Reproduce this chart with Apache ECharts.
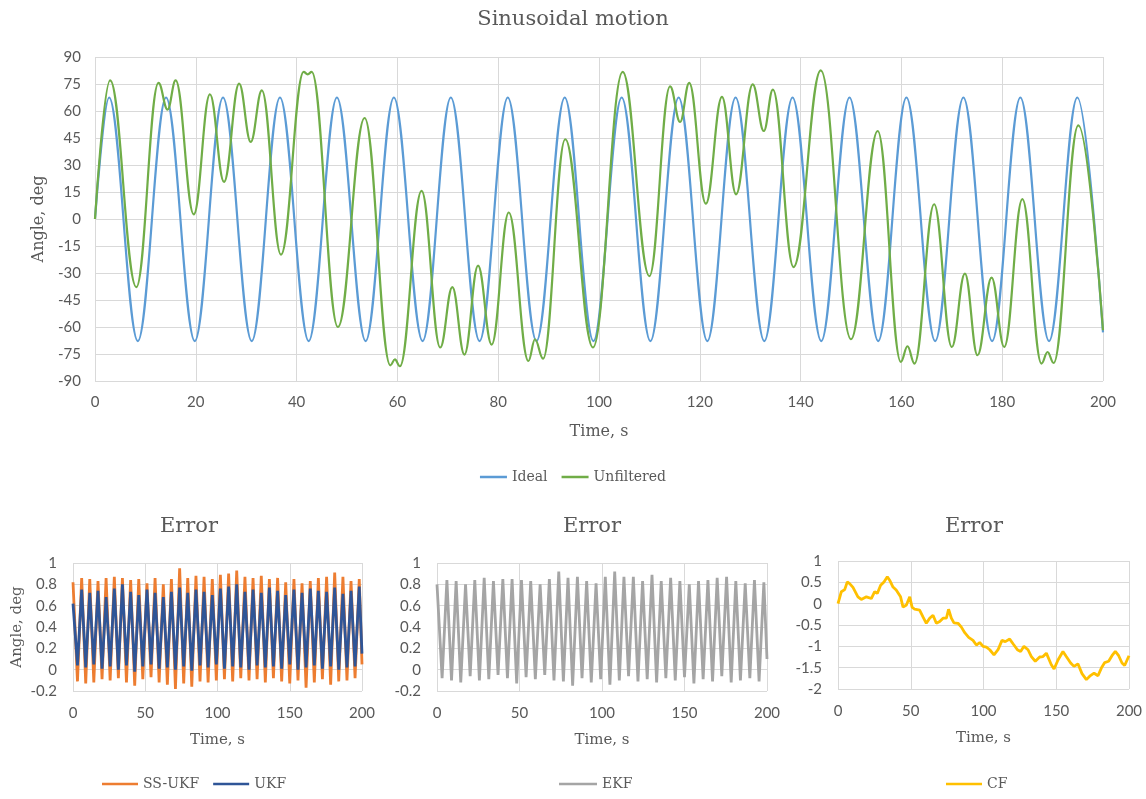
<!DOCTYPE html>
<html><head><meta charset="utf-8">
<script src="https://cdn.jsdelivr.net/npm/echarts@6/dist/echarts.min.js"></script>
<style>html,body{margin:0;padding:0;background:#fff}#c{width:1146px;height:799px}</style>
</head><body><div id="c"></div>
<script>
// ---- Main chart: Sinusoidal motion (extrema) ----
const idealT = [0, 2.8, 8.5, 14.1, 19.8, 25.4, 31.1, 36.7, 42.4, 48.0, 53.7, 59.3, 65.0, 70.6, 76.3, 81.9, 87.6, 93.2, 98.9, 104.5, 110.2, 115.8, 121.5, 127.1, 132.8, 138.4, 144.1, 149.7, 155.4, 161.0, 166.7, 172.3, 178.0, 183.6, 189.3, 194.9, 200];
const idealV = [0, 67.5, -67.8, 67.5, -67.8, 67.5, -67.8, 67.5, -67.8, 67.5, -67.8, 67.5, -67.8, 67.5, -67.8, 67.5, -67.8, 67.5, -67.8, 67.5, -67.8, 67.5, -67.8, 67.5, -67.8, 67.5, -67.8, 67.5, -67.8, 67.5, -67.8, 67.5, -67.8, 67.5, -67.8, 67.5, -63];
const rawT = [0, 3.0, 8.2, 12.6, 14.4, 16.0, 19.6, 22.8, 25.6, 28.6, 30.9, 33.1, 36.9, 41.4, 42.2, 43.0, 48.2, 53.5, 58.6, 59.5, 60.5, 64.8, 68.5, 70.9, 73.3, 76.0, 78.7, 82.1, 86.0, 87.3, 88.9, 93.3, 98.8, 104.7, 110.0, 114.1, 116.1, 117.9, 121.2, 124.4, 127.2, 130.5, 132.7, 134.5, 138.6, 144.0, 150.0, 155.3, 159.9, 161.2, 162.6, 166.5, 170.0, 172.6, 175.1, 177.9, 180.4, 184.0, 187.8, 189.0, 190.2, 195.1, 200];
const rawV = [0, 77, -37.8, 75.6, 60.8, 77, 2.6, 69.3, 20.6, 75.2, 42.8, 71.5, -19.8, 81.7, 80.4, 81.7, -60, 56.1, -81.3, -78, -81.8, 15.6, -71.4, -37.8, -75.3, -25.9, -69.8, 3.6, -78.9, -66.8, -77.6, 44.3, -71.4, 81.7, -31.7, 73.7, 53.9, 75.6, 8.5, 67.8, 13.7, 74.8, 48.9, 71.9, -26.7, 82.6, -66.8, 48.9, -79.4, -70.7, -80.3, 8.2, -71.1, -30.3, -75.7, -32.6, -71.1, 11, -80.3, -73.9, -80, 52, -61.8];

// ---- Error charts: peak / trough times and values ----
const errPeakT = [0, 6.0, 11.6, 17.3, 22.9, 28.6, 34.2, 39.9, 45.5, 51.2, 56.8, 62.5, 68.1, 73.8, 79.4, 85.1, 90.7, 96.4, 102.0, 107.7, 113.3, 119.0, 124.6, 130.3, 135.9, 141.6, 147.2, 152.9, 158.5, 164.2, 169.8, 175.5, 181.1, 186.8, 192.4, 198.1];
const errTroughT = [3.1, 8.8, 14.4, 20.1, 25.7, 31.4, 37.0, 42.7, 48.3, 54.0, 59.6, 65.3, 70.9, 76.6, 82.2, 87.9, 93.5, 99.2, 104.8, 110.5, 116.1, 121.8, 127.4, 133.1, 138.7, 144.4, 150.0, 155.7, 161.3, 167.0, 172.6, 178.3, 183.9, 189.6, 195.2];
const errEndT = 200;
const ssukfPeak = [0.82, 0.86, 0.85, 0.83, 0.86, 0.87, 0.86, 0.84, 0.85, 0.81, 0.86, 0.80, 0.85, 0.95, 0.86, 0.88, 0.87, 0.85, 0.89, 0.90, 0.93, 0.87, 0.86, 0.88, 0.85, 0.86, 0.82, 0.85, 0.81, 0.83, 0.86, 0.87, 0.91, 0.87, 0.83, 0.85];
const ssukfTrough = [-0.11, -0.13, -0.12, -0.09, -0.10, -0.08, -0.12, -0.15, -0.09, -0.07, -0.12, -0.14, -0.18, -0.13, -0.16, -0.11, -0.12, -0.10, -0.09, -0.11, -0.08, -0.10, -0.09, -0.12, -0.08, -0.11, -0.13, -0.10, -0.17, -0.12, -0.09, -0.14, -0.11, -0.10, -0.08];
const ssukfEnd = 0.05;
const ukfPeak = [0.62, 0.75, 0.72, 0.74, 0.68, 0.76, 0.80, 0.73, 0.70, 0.75, 0.72, 0.68, 0.73, 0.77, 0.72, 0.75, 0.73, 0.70, 0.76, 0.78, 0.80, 0.73, 0.75, 0.72, 0.77, 0.74, 0.70, 0.75, 0.72, 0.76, 0.74, 0.73, 0.77, 0.71, 0.74, 0.78];
const ukfTrough = [0.04, 0.02, 0.05, 0.01, 0.03, 0.0, 0.04, -0.02, 0.03, 0.05, 0.01, 0.02, 0.0, 0.03, -0.01, 0.04, 0.02, 0.05, 0.01, 0.03, 0.02, 0.0, 0.04, 0.02, 0.03, 0.01, 0.05, 0.0, 0.02, 0.04, 0.01, 0.03, 0.0, 0.02, 0.03];
const ukfEnd = 0.15;
const ekfPeak = [0.80, 0.84, 0.83, 0.80, 0.84, 0.86, 0.83, 0.85, 0.85, 0.84, 0.83, 0.80, 0.85, 0.92, 0.86, 0.87, 0.83, 0.81, 0.87, 0.92, 0.87, 0.87, 0.83, 0.89, 0.83, 0.86, 0.83, 0.80, 0.83, 0.84, 0.86, 0.87, 0.83, 0.81, 0.84, 0.82];
const ekfTrough = [-0.08, -0.10, -0.12, -0.06, -0.10, -0.09, -0.05, -0.08, -0.13, -0.07, -0.09, -0.05, -0.10, -0.11, -0.15, -0.08, -0.12, -0.09, -0.14, -0.10, -0.06, -0.11, -0.09, -0.12, -0.08, -0.10, -0.07, -0.13, -0.09, -0.11, -0.06, -0.12, -0.10, -0.08, -0.11];
const ekfEnd = 0.1;
const cfT = [0, 2.3, 4.6, 6.4, 8, 10.3, 13.7, 16, 19.5, 22.9, 25.2, 27, 29.3, 31.6, 33.9, 35.5, 37.8, 40, 43, 44.7, 47, 49.3, 50.9, 52.7, 56.1, 58.4, 60.7, 63, 65.3, 67.6, 69.9, 72.2, 74.5, 76, 77.9, 79.7, 82.5, 84.8, 87.1, 89.8, 92.8, 95.1, 97.4, 99.7, 102, 104.3, 107.2, 110, 112.7, 115, 118, 120.3, 123.3, 125.5, 127.8, 130.6, 132.9, 135.6, 138.6, 140.9, 143.2, 146.6, 148.5, 151.2, 154.6, 156.9, 159.9, 162.2, 164.9, 167.7, 170.7, 173, 176, 178.7, 181, 183.3, 186, 188.3, 190.6, 192.9, 195.2, 197, 200];
const cfV = [0.0, 0.28, 0.33, 0.51, 0.47, 0.38, 0.16, 0.1, 0.16, 0.12, 0.28, 0.24, 0.43, 0.51, 0.63, 0.55, 0.39, 0.32, 0.16, -0.08, -0.03, 0.16, -0.08, -0.13, -0.15, -0.31, -0.46, -0.34, -0.27, -0.46, -0.42, -0.34, -0.34, -0.13, -0.34, -0.45, -0.46, -0.55, -0.68, -0.79, -0.86, -0.97, -0.91, -1.0, -1.02, -1.08, -1.2, -1.08, -0.86, -0.89, -0.83, -0.94, -1.08, -1.12, -1.0, -1.08, -1.24, -1.35, -1.25, -1.24, -1.16, -1.43, -1.53, -1.32, -1.12, -1.24, -1.39, -1.47, -1.41, -1.64, -1.78, -1.70, -1.63, -1.69, -1.51, -1.38, -1.35, -1.22, -1.12, -1.22, -1.39, -1.45, -1.22];

const titles = ['Sinusoidal motion', 'Error'];
const xName = 'Time, s', yName = 'Angle, deg';

function pairs(t, v) { return t.map((x, i) => [x, v[i]]); }
function zig(peaks, troughs, endV) {
  const out = [];
  for (let i = 0; i < peaks.length; i++) {
    out.push([errPeakT[i], peaks[i]]);
    if (i < troughs.length) out.push([errTroughT[i], troughs[i]]);
  }
  out.push([errEndT, endV]);
  return out;
}

const grey = '#595959', gridC = '#D9D9D9';
const serif = 'DejaVu Serif', sans = 'Lato';

function xAx(gi, name, gap, fs, margin) {
  return { gridIndex: gi, type: 'value', min: 0, max: 200, interval: gi === 0 ? 20 : 50,
    axisLine: { show: false }, axisTick: { show: false },
    splitLine: { show: true, lineStyle: { color: gridC, width: 1 } },
    axisLabel: { color: grey, fontFamily: sans, fontSize: 15, margin: margin },
    name: name, nameLocation: 'middle', nameGap: gap,
    nameTextStyle: { fontFamily: serif, fontSize: fs, color: grey } };
}
function yAx(gi, min, max, interval, name, gap, fs, margin) {
  return { gridIndex: gi, type: 'value', min: min, max: max, interval: interval,
    axisLine: { show: false }, axisTick: { show: false },
    splitLine: { show: true, lineStyle: { color: gridC, width: 1 } },
    axisLabel: { color: grey, fontFamily: sans, fontSize: 15, margin: margin },
    name: name, nameLocation: 'middle', nameGap: gap,
    nameTextStyle: { fontFamily: serif, fontSize: fs, color: grey } };
}
function ttl(text, x, top, fs) {
  return { text: text, left: x, top: top, textAlign: 'center', padding: 0,
    textStyle: { fontFamily: serif, fontSize: fs, fontWeight: 'normal', color: grey } };
}
function leg(names, left, top, w) {
  return { data: names, left: left, top: top, padding: 0, icon: 'rect',
    itemWidth: w, itemHeight: 2.5, itemGap: 14,
    textStyle: { fontFamily: serif, fontSize: 14, color: grey } };
}
function line(name, data, color, xi, w, extra) {
  return Object.assign({ name: name, type: 'line', data: data, xAxisIndex: xi, yAxisIndex: xi,
    symbol: 'none', lineStyle: { color: color, width: w }, itemStyle: { color: color },
    emphasis: { disabled: true }, animation: false }, extra || {});
}

const option = {
  backgroundColor: '#fff',
  animation: false,
  title: [
    ttl(titles[0], 573, 9, 21),
    ttl(titles[1], 189, 516, 21),
    ttl(titles[1], 592, 516, 21),
    ttl(titles[1], 974, 516, 21)
  ],
  legend: [
    leg(['Ideal', 'Unfiltered'], 'center', 470, 27),
    leg(['SS-UKF', 'UKF'], 102, 777, 36),
    leg(['EKF'], 559, 777, 38),
    leg(['CF'], 946, 777, 36)
  ],
  grid: [
    { left: 95, top: 57, width: 1008, height: 324, outerBoundsMode: 'none' },
    { left: 73, top: 563, width: 289, height: 128, outerBoundsMode: 'none' },
    { left: 437, top: 563, width: 330, height: 128, outerBoundsMode: 'none' },
    { left: 838, top: 561, width: 291, height: 128, outerBoundsMode: 'none' }
  ],
  xAxis: [xAx(0, xName, 43, 16, 14), xAx(1, xName, 42, 15, 15), xAx(2, xName, 42, 15, 15), xAx(3, xName, 42, 15, 15)],
  yAxis: [
    yAx(0, -90, 90, 15, yName, 41, 16, 14),
    yAx(1, -0.2, 1, 0.2, yName, 48, 15, 16),
    yAx(2, -0.2, 1, 0.2, '', 40, 15, 16),
    yAx(3, -2, 1, 0.5, '', 40, 15, 16)
  ],
  series: [
    line('Ideal', pairs(idealT, idealV), '#5B9BD5', 0, 2.2, { smooth: 0.36, smoothMonotone: 'x' }),
    line('Unfiltered', pairs(rawT, rawV), '#70AD47', 0, 2.2, { smooth: 0.4, smoothMonotone: 'x' }),
    line('SS-UKF', zig(ssukfPeak, ssukfTrough, ssukfEnd), '#ED7D31', 1, 2.8),
    line('UKF', zig(ukfPeak, ukfTrough, ukfEnd), '#2F5597', 1, 2.8),
    line('EKF', zig(ekfPeak, ekfTrough, ekfEnd), '#A5A5A5', 2, 2.8),
    line('CF', pairs(cfT, cfV), '#FFC000', 3, 2.8)
  ]
};
const chart = echarts.init(document.getElementById('c'), null, { renderer: 'canvas' });
chart.setOption(option);
</script></body></html>
